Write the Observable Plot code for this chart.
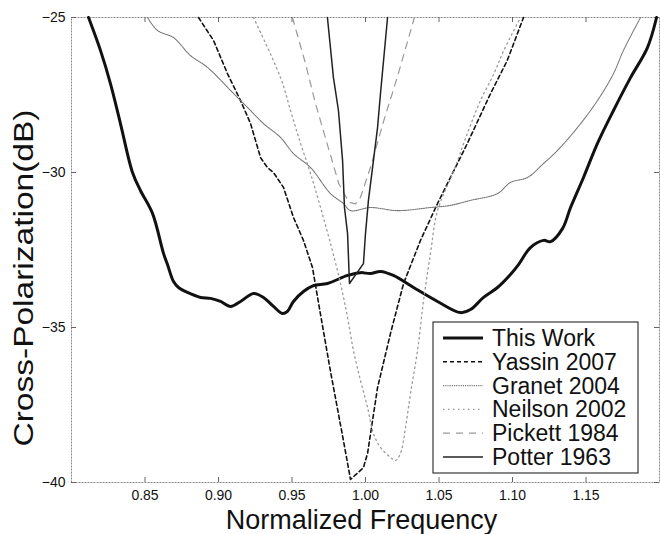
<!DOCTYPE html>
<html><head><meta charset="utf-8">
<script src="https://cdn.jsdelivr.net/npm/d3@7"></script>
<script src="https://cdn.jsdelivr.net/npm/@observablehq/plot@0.6"></script>
<style>html,body{margin:0;padding:0;background:#fff;} svg{display:block}</style>
</head><body><div id="chart"></div>
<script>
const xTicks = [0.85, 0.90, 0.95, 1.00, 1.05, 1.10, 1.15];
const yTicks = [-40, -35, -30, -25];
const xDomain = [0.80, 1.20];
const yDomain = [-40, -25];
const xLabel = "Normalized Frequency";
const yLabel = "Cross-Polarization(dB)";
const seriesNames = ["This Work", "Yassin 2007", "Granet 2004", "Neilson 2002", "Pickett 1984", "Potter 1963"];

const thisWork = [[0.8116,-25],[0.8197,-26.06],[0.8265,-27.13],[0.8333,-28.42],[0.8415,-30.0],[0.8469,-30.58],[0.8551,-31.32],[0.8626,-32.61],[0.8653,-32.97],[0.8694,-33.52],[0.8728,-33.71],[0.8789,-33.87],[0.8878,-34.03],[0.8946,-34.06],[0.9014,-34.16],[0.9082,-34.32],[0.915,-34.16],[0.9238,-33.9],[0.9306,-34.03],[0.9374,-34.32],[0.9435,-34.55],[0.9469,-34.48],[0.951,-34.16],[0.9578,-33.84],[0.9646,-33.65],[0.9741,-33.58],[0.9878,-33.32],[0.9966,-33.23],[1.0034,-33.26],[1.0102,-33.19],[1.019,-33.32],[1.0327,-33.71],[1.049,-34.16],[1.0646,-34.52],[1.0714,-34.42],[1.0803,-34.03],[1.0898,-33.71],[1.0986,-33.29],[1.1041,-32.97],[1.1122,-32.42],[1.1211,-32.19],[1.1259,-32.23],[1.134,-31.81],[1.1395,-31.13],[1.1483,-30.16],[1.1578,-29.06],[1.1687,-28.0],[1.1803,-26.94],[1.1918,-25.97],[1.198,-25]];
const yassin2007 = [[0.8864,-25],[0.8966,-25.74],[0.9061,-26.81],[0.915,-27.68],[0.9218,-28.42],[0.9286,-29.52],[0.9333,-29.84],[0.9374,-30.0],[0.9442,-30.48],[0.951,-31.45],[0.9578,-32.19],[0.9639,-33.06],[0.9694,-34.58],[0.9762,-36.42],[0.985,-38.65],[0.9898,-39.9],[0.9986,-39.52],[1.0014,-39.06],[1.0082,-36.94],[1.017,-35.19],[1.0259,-33.58],[1.0374,-32.19],[1.049,-31.0],[1.0692,-29.07],[1.085,-27.46],[1.0964,-26.39],[1.1075,-25]];
const granet2004 = [[0.8517,-25],[0.8585,-25.42],[0.8694,-25.65],[0.881,-26.23],[0.8925,-26.61],[0.9102,-27.45],[0.9197,-27.9],[0.9306,-28.42],[0.9422,-28.87],[0.951,-29.39],[0.9626,-29.84],[0.9762,-30.68],[0.985,-31.0],[0.9898,-31.23],[1.0034,-31.13],[1.0218,-31.23],[1.0442,-31.13],[1.0578,-31.06],[1.0714,-30.9],[1.0898,-30.68],[1.0986,-30.32],[1.1102,-30.16],[1.1211,-29.71],[1.1306,-29.29],[1.1442,-28.55],[1.1578,-27.68],[1.1687,-26.81],[1.1755,-26.06],[1.1871,-25]];
const neilson2002 = [[0.9238,-25],[0.9422,-26.94],[0.949,-28.0],[0.9558,-29.06],[0.9626,-30.03],[0.9694,-31.13],[0.9762,-32.29],[0.983,-33.58],[0.9878,-34.68],[0.9918,-35.74],[0.9966,-36.71],[1.0014,-37.58],[1.0054,-38.42],[1.0102,-38.87],[1.017,-39.19],[1.0204,-39.29],[1.0238,-39.06],[1.0272,-38.23],[1.0306,-37.13],[1.0354,-35.74],[1.0395,-34.13],[1.0442,-32.61],[1.049,-31.23],[1.0601,-29.94],[1.0692,-28.75],[1.0782,-27.68],[1.0873,-26.82],[1.0941,-26.06],[1.1054,-25]];
const pickett1984 = [[0.9503,-25],[0.9592,-26.49],[0.966,-27.78],[0.9739,-29.07],[0.9819,-30.37],[0.9887,-30.96],[0.9932,-31.01],[0.9966,-30.8],[1.0034,-29.83],[1.0125,-28.32],[1.0216,-26.93],[1.0333,-25]];
const potter1963 = [[0.9741,-25],[0.9782,-26.94],[0.9816,-28.0],[0.9844,-29.61],[0.9857,-31.13],[0.9878,-31.97],[0.9891,-33.58],[0.9986,-32.94],[1.0,-31.97],[1.002,-30.9],[1.0048,-29.84],[1.0082,-28.55],[1.0102,-27.45],[1.015,-25]];

const seriesData = [thisWork, yassin2007, granet2004, neilson2002, pickett1984, potter1963];
const seriesStyles = [
  {stroke: "#111", strokeWidth: 3, strokeDasharray: null, curve: "catmull-rom"},
  {stroke: "#111", strokeWidth: 1.6, strokeDasharray: "4,3", curve: "linear"},
  {stroke: "#777", strokeWidth: 1.1, strokeDasharray: "1.2,1", curve: "catmull-rom"},
  {stroke: "#999", strokeWidth: 1.3, strokeDasharray: "1.5,3.5", curve: "catmull-rom"},
  {stroke: "#999", strokeWidth: 1.2, strokeDasharray: "7,6", curve: "linear"},
  {stroke: "#222", strokeWidth: 1.5, strokeDasharray: null, curve: "linear"}
];

const lineMarks = seriesData.map((data, i) => Plot.line(data, {
  x: d => d[0], y: d => d[1],
  stroke: seriesStyles[i].stroke,
  strokeWidth: seriesStyles[i].strokeWidth,
  strokeDasharray: seriesStyles[i].strokeDasharray,
  curve: seriesStyles[i].curve
}));

// inward tick length: 5px expressed in data units of each scale
const plotW = 660 - 71 - 1, plotH = 534 - 17 - 52;
const tickDy = (yDomain[1] - yDomain[0]) * 5 / plotH;
const tickDx = (xDomain[1] - xDomain[0]) * 5 / plotW;
const tickColor = "#666";

const chart = Plot.plot({
  width: 660, height: 534,
  marginLeft: 71, marginRight: 1, marginTop: 17, marginBottom: 52,
  style: {fontFamily: "'Liberation Sans', Arial, sans-serif", background: "#fff", color: "#111"},
  x: {domain: xDomain},
  y: {domain: yDomain},
  marks: [
    Plot.frame({stroke: "#888", strokeDasharray: "2,1"}),
    Plot.ruleX(xTicks, {x: d => d, y1: yDomain[0], y2: yDomain[0] + tickDy, stroke: tickColor}),
    Plot.ruleX(xTicks, {x: d => d, y1: yDomain[1] - tickDy, y2: yDomain[1], stroke: tickColor}),
    Plot.ruleY(yTicks, {y: d => d, x1: xDomain[0], x2: xDomain[0] + tickDx, stroke: tickColor}),
    Plot.ruleY(yTicks, {y: d => d, x1: xDomain[1] - tickDx, x2: xDomain[1], stroke: tickColor}),
    Plot.axisX({ticks: xTicks, tickSize: 0, tickPadding: 8, tickFormat: d3.format(".2f"), fontSize: 14, label: null}),
    Plot.axisY({ticks: yTicks, tickSize: 0, tickPadding: 6, fontSize: 14, label: null}),
    ...lineMarks
  ]
});
document.getElementById("chart").appendChild(chart);

const svg = d3.select(chart);
// axis titles
svg.append("text")
  .attr("x", 361.5).attr("y", 529)
  .attr("text-anchor", "middle")
  .attr("font-size", 27).attr("fill", "#111")
  .text(xLabel);
svg.append("text")
  .attr("transform", "translate(33,278) rotate(-90)")
  .attr("text-anchor", "middle")
  .attr("font-size", 27).attr("fill", "#111")
  .attr("textLength", 337).attr("lengthAdjust", "spacingAndGlyphs")
  .text(yLabel);

// legend
const lg = svg.append("g").attr("text-anchor", "start");
lg.append("rect").attr("x", 433).attr("y", 322).attr("width", 205).attr("height", 151)
  .attr("fill", "#fff").attr("stroke", "#111").attr("stroke-width", 1);
seriesNames.forEach((name, i) => {
  const base = 346 + i * 23.8;
  const s = seriesStyles[i];
  lg.append("line").attr("x1", 443).attr("x2", 483).attr("y1", base - 8).attr("y2", base - 8)
    .attr("stroke", s.stroke).attr("stroke-width", s.strokeWidth)
    .attr("stroke-dasharray", s.strokeDasharray);
  lg.append("text").attr("x", 492).attr("y", base).attr("text-anchor", "start")
    .attr("font-size", 23).attr("fill", "#111").text(name);
});
</script>
</body></html>
